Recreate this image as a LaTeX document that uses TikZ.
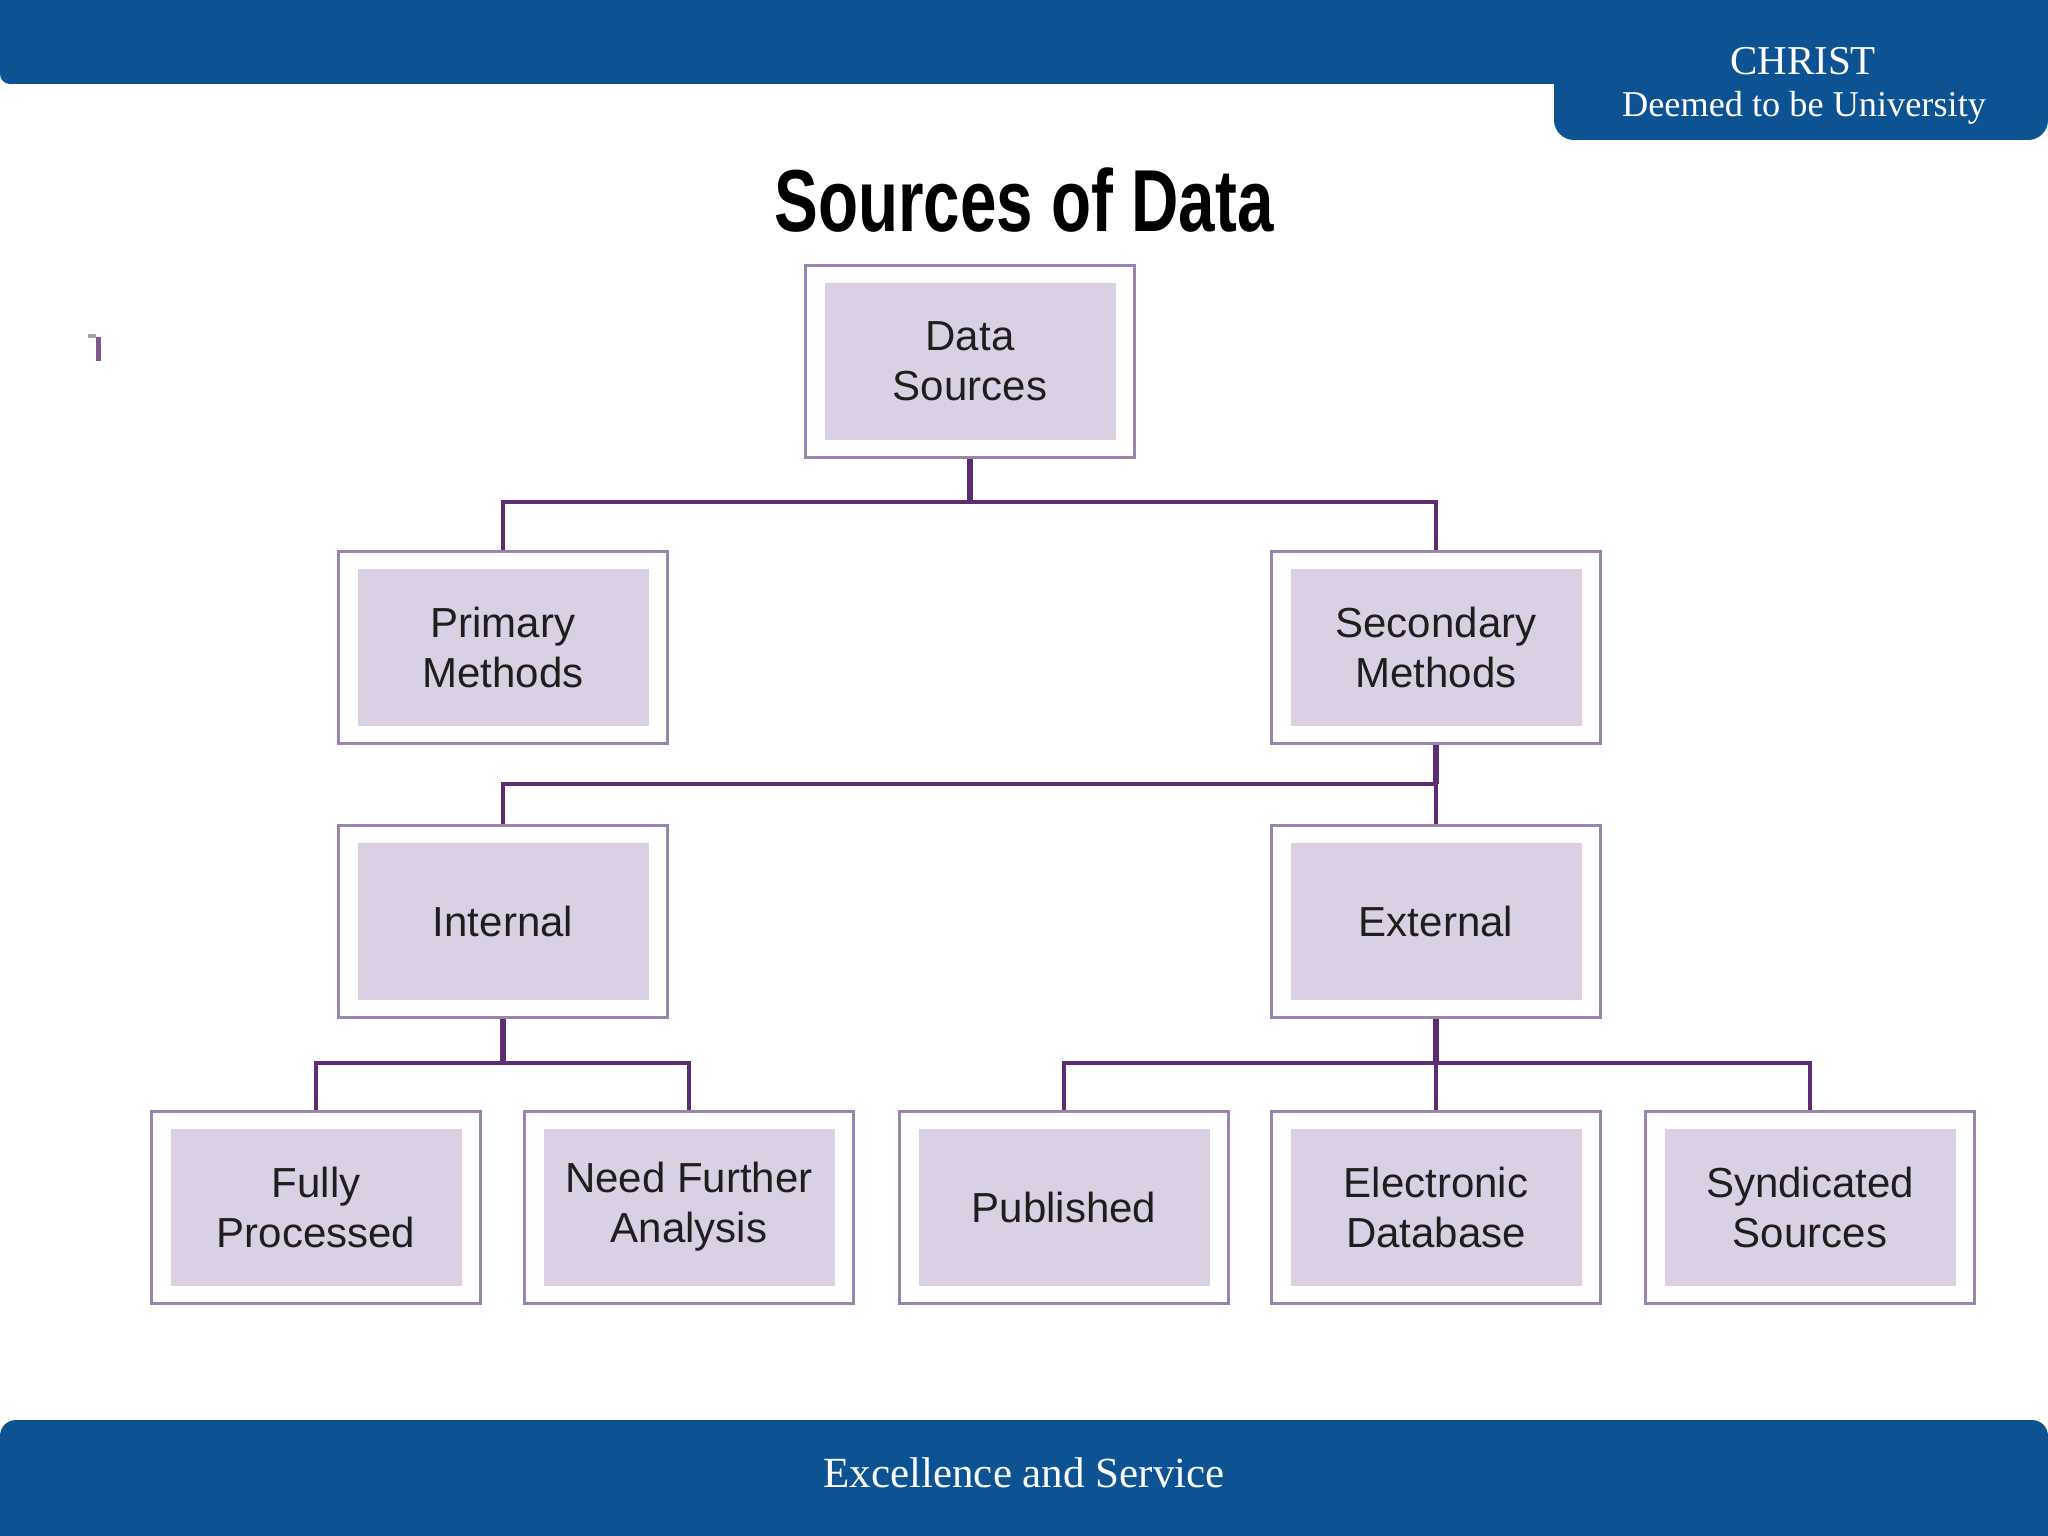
\documentclass[tikz,border=0pt]{standalone}
\usepackage{fontspec}
\setmainfont{Liberation Serif}
\newfontfamily\boxfont{Liberation Sans}
\definecolor{hdrblue}{HTML}{0D5394}
\definecolor{frame}{HTML}{9A83AC}
\definecolor{lav}{HTML}{DBD0E3}
\definecolor{conncol}{HTML}{5C2D72}
\definecolor{txt}{HTML}{1E1E1E}
\tikzset{
  box/.style={draw=frame, line width=3pt, fill=white, minimum width=329pt, minimum height=192pt,
    inner sep=0pt, align=center, text=txt,
    font=\boxfont\fontsize{42}{50}\selectfont,
    path picture={\fill[lav] ([xshift=19pt,yshift=17pt]path picture bounding box.south west) rectangle ([xshift=-19pt,yshift=-18pt]path picture bounding box.north east);}},
  conn/.style={draw=conncol, line width=4pt},
  stem/.style={draw=conncol, line width=5.5pt},
  hdrtext/.style={text=white, inner sep=0pt, anchor=base}
}
\begin{document}
\begin{tikzpicture}[x=1pt, y=-1pt]
\useasboundingbox (0,0) rectangle (2048,1536);
\clip (0,0) rectangle (2048,1536);
\fill[white] (0,0) rectangle (2048,1536);
% header
\fill[hdrblue, rounded corners=10pt] (0,-40) rectangle (2100,84);
\fill[hdrblue, rounded corners=20pt] (1554,-40) rectangle (2048,140);
\node[hdrtext, font=\fontsize{41}{41}\selectfont] (christ) at (1803,75) {CHRIST};
\node[hdrtext, font=\fontsize{36.3}{37}\selectfont] (deemed) at (1804,117) {Deemed to be University};
% footer
\fill[hdrblue, rounded corners=16pt] (0,1420) rectangle (2048,1580);
\node[hdrtext, font=\fontsize{43}{43}\selectfont] (motto) at (1024,1487) {Excellence and Service};
% title
\node[inner sep=0pt] (title) at (1024,200) {\scalebox{0.745}[1]{\boxfont\bfseries\fontsize{88}{88}\selectfont Sources of Data}};
% stray mark
\draw[gray!70, line width=4pt] (88,335.5) -- (96,335.5);
\draw[conncol!80, line width=5pt] (98,337) -- (98,361);
% boxes
\node[box] (ds) at (970,361) {Data\\Sources};
\node[box] (pm) at (503,647) {Primary\\Methods};
\node[box] (sm) at (1436,647) {Secondary\\Methods};
\node[box] (in) at (503,921) {Internal};
\node[box] (ex) at (1436,921) {External};
\node[box] (fp) at (316,1207) {Fully\\Processed};
\node[box] (nf) at (689,1207) {Need Further\\Analysis};
\node[box] (pb) at (1064,1207) {Published};
\node[box] (ed) at (1436,1207) {Electronic\\Database};
\node[box] (ss) at (1810,1207) {Syndicated\\Sources};
% junctions
\coordinate (j1) at (970,502);
\coordinate (j2) at (1436,784);
\coordinate (j3) at (503,1063);
\coordinate (j4) at (1436,1063);
% connectors
\draw[stem] (ds.south) -- (j1);
\draw[conn] (pm.north) |- (j1) -| (sm.north);
\draw[stem] (sm.south) -- (j2);
\draw[conn] (in.north) |- (j2) -- (ex.north);
\draw[stem] (in.south) -- (j3);
\draw[conn] (fp.north) |- (j3) -| (nf.north);
\draw[stem] (ex.south) -- (j4);
\draw[conn] (pb.north) |- (j4) -| (ss.north);
\draw[conn] (j4) -- (ed.north);
\end{tikzpicture}
\end{document}
